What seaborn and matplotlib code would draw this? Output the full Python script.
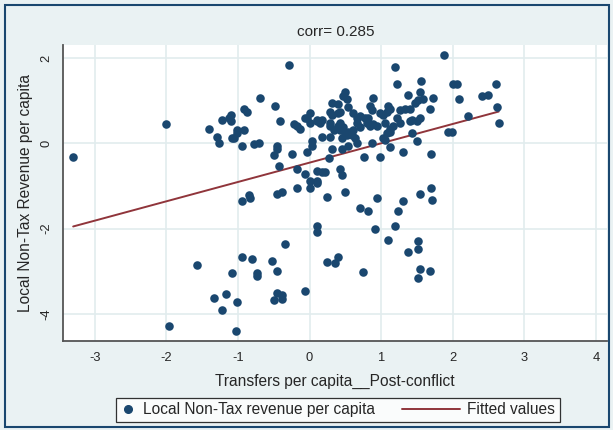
import numpy as np
import pandas as pd
import matplotlib
matplotlib.use("Agg")
import matplotlib.pyplot as plt
from matplotlib.lines import Line2D
from matplotlib.patches import Rectangle
from matplotlib.legend_handler import HandlerBase
import seaborn as sns

# values
transfers = [
    -3.30, -2.01, -1.96, -1.57, -1.40, -1.29, -1.26, -1.22, -1.12, -1.09,
    -1.10, -1.08, -1.05, -1.01, -1.02, -0.92, -0.95, -0.91, -0.87, -0.78,
    -0.71, -0.69, -0.48, -0.29, -0.41, -0.22, -0.18, -0.46, -0.46, -0.49,
    -0.42, -0.25, -0.18, -0.18, -0.46, -0.38, -0.85, -0.83, -0.94, -0.95,
    -0.80, -1.08, -0.73, -0.74, -0.52, -0.45, -0.34, -1.33, -1.17, -1.22,
    -1.02, -0.46, -0.50, -0.38, -0.38, -1.03, -0.06, -0.14, 1.19, 1.87,
    1.22, 1.55, 1.54, 1.58, 1.37, 1.72, 1.68, 1.47, 1.51, 0.88,
    0.50, 0.46, 0.52, 0.53, 0.32, 0.39, 0.85, 0.87, 1.09, 1.12,
    1.08, 1.26, 1.33, 1.40, 0.00, -0.03, -0.07, 0.18, 0.10, 0.14,
    0.28, 0.32, 0.39, 0.42, 0.60, 0.66, 0.70, 0.77, 0.81, 0.98,
    1.02, 1.22, 1.26, 1.16, 1.43, 1.54, 1.05, 0.94, 0.28, 0.39,
    0.46, 0.66, 0.70, 0.84, 0.88, 0.00, 0.10, 0.28, 0.42, 0.49,
    0.53, 0.59, 0.60, 0.80, 1.12, 1.40, 1.50, 0.18, 0.28, 0.03,
    0.04, 0.45, 0.52, 0.63, 0.66, 0.87, 1.02, 1.08, 1.12, 1.05,
    1.12, 1.43, 1.50, 1.93, -0.03, 0.32, 0.45, 0.53, 0.27, 0.76,
    0.98, 1.30, 1.69, -0.06, 0.11, 0.17, 0.21, 0.42, 0.45, 0.00,
    0.10, 0.11, 0.01, 0.50, 0.25, 0.94, 1.30, 1.54, 1.69, 1.71,
    2.00, 2.06, 2.08, 2.21, 1.99, 2.41, 2.49, 2.60, 2.62, 2.64,
    0.71, 0.81, 1.24, 0.11, 0.10, 0.92, 1.19, 1.10, 1.51, 1.51,
    1.38, 0.24, 0.35, 0.39, 0.74, 1.54, 1.68, 1.52, 0.34, 0.42,
]
nontax = [
    -0.31, 0.45, -4.28, -2.85, 0.35, 0.16, 0.00, 0.54, 0.61, 0.66,
    0.52, 0.14, 0.12, 0.24, 0.31, 0.31, -0.07, 0.80, 0.73, -0.02,
    0.02, 1.08, 0.89, 1.84, 0.52, 0.45, 0.40, -0.05, -0.12, -0.26,
    -0.52, -0.24, -0.59, -1.04, -1.18, -1.15, -1.22, -1.27, -1.36, -2.66,
    -2.71, -3.04, -3.04, -3.11, -2.75, -2.99, -2.35, -3.62, -3.53, -3.91,
    -3.72, -3.51, -3.67, -3.55, -3.65, -4.40, -3.46, 0.33, 1.79, 2.07,
    1.39, 1.46, 1.20, 1.04, 1.13, 1.06, 0.82, 0.96, 1.01, 1.08,
    1.20, 1.11, 1.04, 0.85, 0.96, 0.92, 0.87, 0.78, 0.89, 0.80,
    0.73, 0.78, 0.82, 0.82, 0.71, 0.59, 0.61, 0.54, 0.56, 0.49,
    0.73, 0.66, 0.71, 0.73, 0.71, 0.61, 0.64, 0.59, 0.61, 0.71,
    0.66, 0.59, 0.49, 0.42, 0.56, 0.59, 0.47, 0.42, 0.47, 0.42,
    0.38, 0.47, 0.38, 0.42, 0.45, 0.49, 0.52, 0.42, 0.47, 0.24,
    0.26, 0.19, 0.31, 0.47, 0.35, 0.52, 0.52, 0.16, 0.16, 0.05,
    -0.05, 0.12, 0.19, 0.12, 0.02, 0.02, 0.14, 0.24, 0.26, 0.07,
    -0.09, 0.24, 0.05, 0.28, -0.21, -0.14, -0.12, -0.05, -0.35, -0.31,
    -0.31, -0.21, -0.24, -0.71, -0.64, -0.68, -0.68, -0.61, -0.73, -0.87,
    -0.87, -0.92, -1.04, -1.13, -1.25, -1.27, -1.34, -1.18, -1.04, -1.32,
    1.39, 1.39, 1.04, 0.64, 0.28, 1.11, 1.15, 1.39, 0.85, 0.49,
    -1.51, -1.58, -1.58, -1.95, -2.07, -2.00, -1.95, -2.26, -2.28, -2.49,
    -2.56, -2.78, -2.80, -2.66, -3.01, -2.94, -2.99, -3.15, 0.31, 0.31,
]
fitted_values = [-1.95, 0.75]
x_ticks = [-3, -2, -1, 0, 1, 2, 3, 4]
y_ticks = [-4, -2, 0, 2]
chart_title = "corr= 0.285"
x_label = "Transfers per capita__Post-conflict"
y_label = "Local Non-Tax Revenue per capita"
legend_labels = ["Local Non-Tax revenue per capita", "Fitted values"]

df = pd.DataFrame({"transfers": transfers, "nontax": nontax})
fit = pd.DataFrame({"transfers": [df["transfers"].min(), df["transfers"].max()],
                    "fitted": fitted_values})

navy = "#1A476F"
maroon = "#90353B"
bg = "#EAF2F3"


class DotHandler(HandlerBase):
    def create_artists(self, legend, orig_handle, xdescent, ydescent,
                       width, height, fontsize, trans):
        dot = Line2D([width / 2 - xdescent], [height / 2 - ydescent], marker="o",
                     linestyle="", color=navy, markersize=5.5, transform=trans)
        return [dot]


class LongLineHandler(HandlerBase):
    def create_artists(self, legend, orig_handle, xdescent, ydescent,
                       width, height, fontsize, trans):
        y = height / 2 - ydescent
        ln = Line2D([width - xdescent - 42, width - xdescent], [y, y],
                    color=maroon, linewidth=1.4, transform=trans)
        return [ln]


sns.set_style("white")
plt.rcParams["font.family"] = ["Liberation Sans", "DejaVu Sans"]

fig = plt.figure(figsize=(6.13, 4.30), dpi=100, facecolor=bg)
ax = fig.add_axes([0.103, 0.207, 0.887, 0.688])
ax.set_facecolor("white")

sns.scatterplot(data=df, x="transfers", y="nontax", ax=ax, color=navy,
                s=38, edgecolor=navy, linewidth=0, zorder=3)
sns.lineplot(data=fit, x="transfers", y="fitted", ax=ax, color=maroon,
             linewidth=1.4, zorder=2)

ax.set_xlim(-3.44, 4.15)
ax.set_ylim(-4.64, 2.31)
ax.set_xticks(x_ticks)
ax.set_yticks(y_ticks)
ax.set_xticklabels([str(t) for t in x_ticks], fontsize=9.3)
ax.set_yticklabels([str(t) for t in y_ticks], fontsize=9.3, rotation=90, va="center")
ax.grid(True, color="#E2ECEE", linewidth=1.2)
ax.set_axisbelow(True)

for side in ["top", "right"]:
    ax.spines[side].set_visible(False)
for side in ["left", "bottom"]:
    ax.spines[side].set_color("#555555")
    ax.spines[side].set_linewidth(1.3)
ax.tick_params(axis="both", direction="out", length=5, width=0.9, color="#333333", pad=3)

ax.set_xlabel(x_label, fontsize=11.2, labelpad=7)
ax.set_ylabel(y_label, fontsize=11.2, labelpad=5)
fig.text(0.547, 0.926, chart_title, ha="center", va="center", fontsize=11)

dot_key = Line2D([], [])
line_key = Line2D([], [])
leg = fig.legend([dot_key, line_key], legend_labels, loc="center",
                 bbox_to_anchor=(0.551, 0.047), ncol=2, fontsize=11.2,
                 frameon=True, fancybox=False, handlelength=1.0,
                 columnspacing=4.5, borderpad=0.3, handletextpad=0.45,
                 handler_map={dot_key: DotHandler(), line_key: LongLineHandler()})
leg.get_frame().set_edgecolor("black")
leg.get_frame().set_linewidth(0.9)

fig.patches.append(Rectangle((0.008, 0.006), 0.986, 0.982, transform=fig.transFigure,
                             fill=False, edgecolor=navy, linewidth=1.5))

fig.savefig("out.png", dpi=100, facecolor=bg)
